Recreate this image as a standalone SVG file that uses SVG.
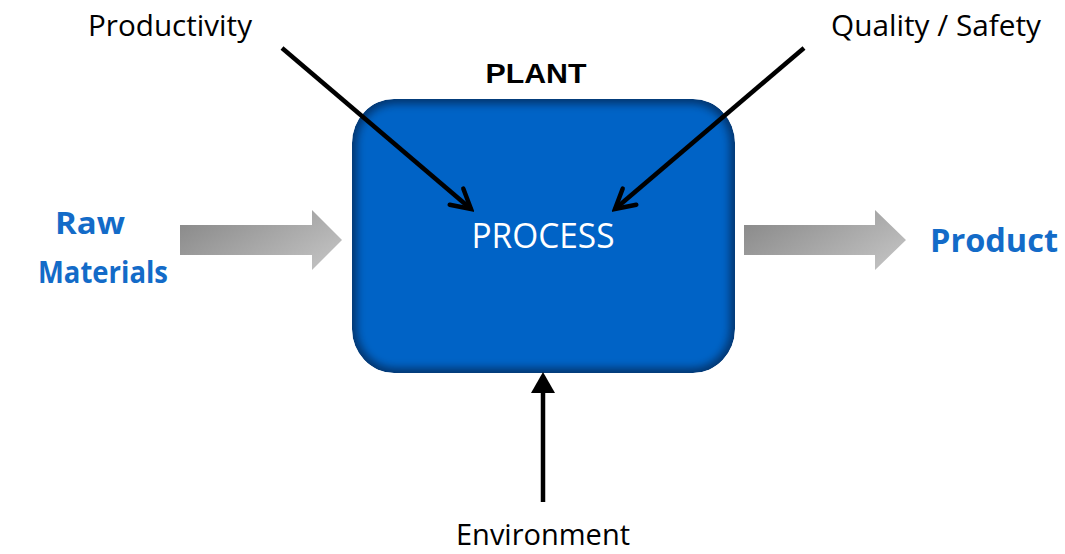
<svg xmlns="http://www.w3.org/2000/svg" width="1065" height="554" viewBox="0 0 1065 554">
<defs>
<style>
.lbl{font-family:"Open Sans","Liberation Sans",sans-serif;font-size:30px;fill:#000;text-anchor:middle}
.blue{font-family:"Open Sans","Liberation Sans",sans-serif;font-weight:bold;fill:#136bc8;text-anchor:middle}
.conn{stroke:#000;stroke-width:4.5;fill:none}
</style>
<linearGradient id="grayG" x1="0" y1="0" x2="1" y2="0.6">
<stop offset="0" stop-color="#858585"/>
<stop offset="1" stop-color="#bdbdbd"/>
</linearGradient>
<clipPath id="boxClip"><rect x="352" y="99" width="383" height="274" rx="42" ry="44"/></clipPath>
<filter id="blur" x="-10%" y="-10%" width="120%" height="120%"><feGaussianBlur stdDeviation="4"/></filter>
<marker id="chev" viewBox="-24 -14 28 28" refX="0" refY="0" markerWidth="28" markerHeight="28" markerUnits="userSpaceOnUse" orient="auto">
<path d="M-19,-10.5 L0,0 L-19,10.5" fill="none" stroke="#000" stroke-width="4.5" stroke-linecap="round" stroke-linejoin="miter"/>
</marker>
<marker id="tri" viewBox="0 -13 22 26" refX="0" refY="0" markerWidth="22" markerHeight="26" markerUnits="userSpaceOnUse" orient="auto">
<path d="M0,-12 L21,0 L0,12 Z" fill="#000"/>
</marker>
</defs>
<g id="plant-label"><text x="536" y="83" font-family="Liberation Sans,Arial,sans-serif" font-weight="bold" font-size="27" text-anchor="middle" textLength="101" lengthAdjust="spacingAndGlyphs">PLANT</text></g>
<g id="process">
<g clip-path="url(#boxClip)">
<rect x="352" y="99" width="383" height="274" rx="42" ry="44" fill="#03356e"/>
<rect x="357" y="104" width="373" height="264" rx="38" ry="40" fill="#0063c6" filter="url(#blur)"/>
</g>
<text x="543" y="248" font-family="Open Sans,Liberation Sans,sans-serif" font-size="34" fill="#fff" text-anchor="middle" textLength="143" lengthAdjust="spacingAndGlyphs">PROCESS</text>
</g>
<g id="raw-materials">
<text class="blue" x="90" y="234" font-size="31" textLength="70" lengthAdjust="spacingAndGlyphs">Raw</text>
<text class="blue" x="103" y="283" font-size="31" textLength="130" lengthAdjust="spacingAndGlyphs">Materials</text>
</g>
<g id="product"><text class="blue" x="994" y="252" font-size="32" textLength="128" lengthAdjust="spacingAndGlyphs">Product</text></g>
<g id="productivity"><text class="lbl" x="170" y="36" textLength="164" lengthAdjust="spacingAndGlyphs">Productivity</text></g>
<g id="quality-safety"><text class="lbl" x="936" y="36" textLength="210" lengthAdjust="spacingAndGlyphs">Quality / Safety</text></g>
<g id="environment"><text class="lbl" x="543" y="545" textLength="174" lengthAdjust="spacingAndGlyphs">Environment</text></g>
<g id="connectors">
<polygon points="180,225 312,225 312,210 342,240 312,270 312,255 180,255" fill="url(#grayG)"/>
<polygon points="744,225 875,225 875,210 906,240 875,270 875,255 744,255" fill="url(#grayG)"/>
<line class="conn" x1="282" y1="48" x2="471" y2="209" marker-end="url(#chev)"/>
<line class="conn" x1="804" y1="48" x2="615" y2="209" marker-end="url(#chev)"/>
<line class="conn" x1="543" y1="502" x2="543" y2="393" marker-end="url(#tri)"/>
</g>
</svg>
